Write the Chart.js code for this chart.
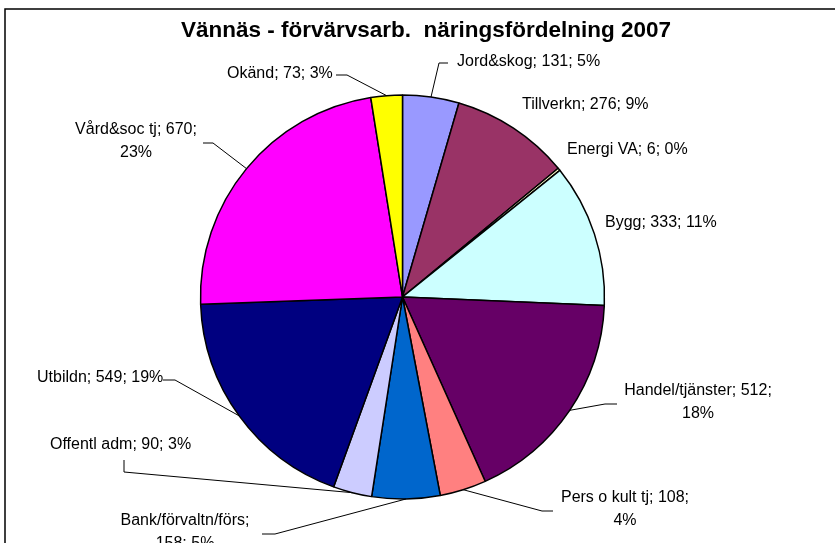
<!DOCTYPE html>
<html>
<head>
<meta charset="utf-8">
<title>Vännäs - förvärvsarb. näringsfördelning 2007</title>
<script src="https://cdn.jsdelivr.net/npm/chart.js"></script>
<style>
  html, body { margin: 0; padding: 0; background: #fff; }
  canvas { display: block; }
</style>
</head>
<body>
<canvas id="myChart" width="835" height="543"></canvas>
<script>
// Data
const title = 'Vännäs - förvärvsarb.  näringsfördelning 2007';
const categories = [
  'Jord&skog',
  'Tillverkn',
  'Energi VA',
  'Bygg',
  'Handel/tjänster',
  'Pers o kult tj',
  'Bank/förvaltn/förs',
  'Offentl adm',
  'Utbildn',
  'Vård&soc tj',
  'Okänd'
];
const values = [131, 276, 6, 333, 512, 108, 158, 90, 549, 670, 73];
const colors = [
  '#9999FF', '#993366', '#FFFFCC', '#CCFFFF', '#660066', '#FF8080',
  '#0066CC', '#CCCCFF', '#000080', '#FF00FF', '#FFFF00'
];

const total = values.reduce((a, b) => a + b, 0);
const percents = values.map(v => Math.round(v / total * 100) + '%');

// where each label sits, and the bend points of its leader line
// wrap: 'pct' = break line before percent, 'val' = before value
const labelLayout = [
  {x: 457, y: 62, align: 'left', path: [[439, 63], [448, 63]]},
  {x: 522, y: 105, align: 'left'},
  {x: 567, y: 150, align: 'left'},
  {x: 605, y: 223, align: 'left'},
  {x: 698, y: 391, align: 'center', wrap: 'pct', path: [[605, 404], [617, 404]]},
  {x: 625, y: 498, align: 'center', wrap: 'pct', path: [[542, 511], [553, 511]]},
  {x: 185, y: 521, align: 'center', wrap: 'val', path: [[275, 534], [262, 534]]},
  {x: 50, y: 445, align: 'left', path: [[124, 472], [124, 460]]},
  {x: 37, y: 378, align: 'left', path: [[175, 380], [163, 380]]},
  {x: 136, y: 130, align: 'center', wrap: 'pct', path: [[213, 143], [203, 143]]},
  {x: 227, y: 74, align: 'left', path: [[347, 75], [336, 75]]}
];

const FONT = '"Liberation Sans", Arial, sans-serif';

const pieLabels = {
  id: 'pieLabels',
  beforeDraw(chart) {
    const ctx = chart.ctx;
    ctx.save();
    ctx.fillStyle = '#fff';
    ctx.fillRect(0, 0, chart.width, chart.height);
    // frame
    ctx.strokeStyle = '#000';
    ctx.lineWidth = 1.5;
    ctx.beginPath();
    ctx.moveTo(5, chart.height + 2);
    ctx.lineTo(5, 9);
    ctx.lineTo(chart.width + 2, 9);
    ctx.stroke();
    ctx.restore();
  },
  afterDraw(chart) {
    const ctx = chart.ctx;
    const arcs = chart.getDatasetMeta(0).data;
    ctx.save();
    // title
    ctx.fillStyle = '#000';
    ctx.font = 'bold 22.5px ' + FONT;
    ctx.textAlign = 'center';
    ctx.textBaseline = 'middle';
    ctx.fillText(title, 426, 31);

    ctx.font = '16px ' + FONT;
    ctx.strokeStyle = '#000';
    ctx.lineWidth = 1;
    arcs.forEach((arc, i) => {
      const lay = labelLayout[i];
      if (lay.path) {
        const p = arc.getProps(['x', 'y', 'startAngle', 'endAngle', 'outerRadius'], true);
        const mid = (p.startAngle + p.endAngle) / 2;
        ctx.beginPath();
        ctx.moveTo(p.x + Math.cos(mid) * p.outerRadius, p.y + Math.sin(mid) * p.outerRadius);
        lay.path.forEach(pt => ctx.lineTo(pt[0], pt[1]));
        ctx.stroke();
      }
      let lines;
      if (lay.wrap === 'pct') {
        lines = [categories[i] + '; ' + values[i] + ';', percents[i]];
      } else if (lay.wrap === 'val') {
        lines = [categories[i] + ';', values[i] + '; ' + percents[i]];
      } else {
        lines = [categories[i] + '; ' + values[i] + '; ' + percents[i]];
      }
      ctx.textAlign = lay.align;
      lines.forEach((t, k) => ctx.fillText(t, lay.x, lay.y + k * 23));
    });
    ctx.restore();
  }
};

const data = {
  labels: categories,
  datasets: [{
    data: values,
    backgroundColor: colors,
    borderColor: '#000',
    borderWidth: 1.5,
    radius: 202
  }]
};

const config = {
  type: 'pie',
  data,
  options: {
    responsive: false,
    animation: false,
    layout: { padding: { left: 0, right: 30, top: 51, bottom: 0 } },
    plugins: {
      legend: { display: false },
      tooltip: { enabled: false }
    }
  },
  plugins: [pieLabels]
};

var myChart = new Chart(document.getElementById('myChart'), config);
</script>
</body>
</html>
